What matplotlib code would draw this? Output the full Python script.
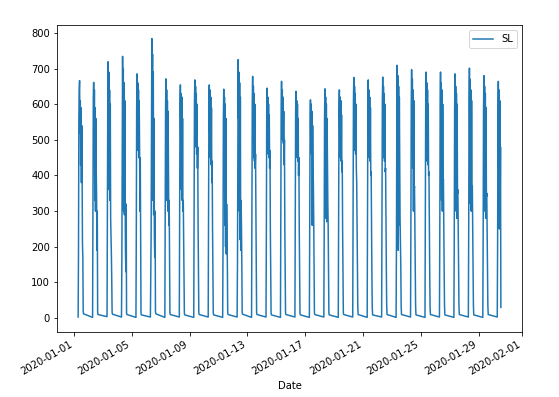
# -*- coding: utf-8 -*-
"""Daily SL readings for January 2020, one burst of values per day."""

import numpy as np
import pandas as pd
import matplotlib
matplotlib.use('Agg')
import matplotlib.pyplot as plt
import matplotlib.dates as mdates

# first reading of each day and spacing between readings
day_start = pd.Timestamp('2020-01-01 07:00')
step = pd.Timedelta(minutes=36)

# readings per day
sl_by_day = [
    [3, 180, 560, 640, 666, 520, 610, 430, 590, 380, 540, 400, 210, 170, 18, 12],
    [2, 330, 620, 661, 480, 640, 330, 590, 300, 560, 420, 350, 190, 300, 16, 10],
    [4, 280, 600, 719, 520, 690, 360, 640, 330, 600, 280, 230, 180, 110, 17, 11],
    [3, 160, 420, 734, 560, 700, 300, 660, 290, 610, 350, 190, 130, 320, 15, 10],
    [2, 240, 590, 685, 520, 660, 470, 640, 450, 610, 480, 300, 450, 200, 14, 9],
    [3, 120, 230, 520, 784, 600, 740, 330, 690, 290, 560, 230, 170, 300, 18, 12],
    [2, 260, 590, 671, 470, 640, 330, 610, 300, 580, 400, 260, 330, 160, 15, 10],
    [3, 300, 600, 654, 500, 630, 360, 620, 330, 560, 300, 330, 230, 150, 14, 9],
    [2, 350, 610, 668, 560, 650, 480, 630, 460, 600, 420, 480, 260, 140, 15, 10],
    [3, 330, 600, 654, 520, 640, 450, 620, 430, 590, 380, 440, 250, 140, 14, 9],
    [2, 200, 560, 642, 400, 620, 260, 600, 200, 560, 180, 320, 250, 150, 15, 10],
    [3, 150, 480, 725, 560, 690, 300, 660, 220, 620, 190, 330, 260, 160, 16, 11],
    [2, 320, 610, 678, 520, 650, 450, 630, 440, 600, 420, 460, 280, 150, 15, 10],
    [3, 250, 590, 645, 500, 620, 460, 600, 450, 570, 420, 470, 250, 130, 14, 9],
    [2, 300, 600, 664, 560, 640, 500, 620, 490, 580, 430, 500, 260, 140, 15, 10],
    [3, 280, 580, 636, 520, 610, 450, 600, 440, 560, 400, 450, 250, 140, 14, 9],
    [2, 250, 540, 612, 480, 600, 460, 580, 260, 540, 420, 380, 280, 140, 15, 10],
    [3, 230, 560, 643, 480, 620, 280, 600, 270, 560, 430, 330, 260, 140, 14, 9],
    [2, 260, 580, 640, 500, 620, 450, 610, 440, 570, 410, 440, 250, 130, 15, 10],
    [3, 300, 610, 675, 520, 650, 470, 630, 460, 600, 420, 380, 260, 140, 30, 10],
    [2, 290, 600, 668, 500, 640, 450, 620, 440, 590, 400, 410, 250, 130, 30, 9],
    [3, 310, 610, 676, 510, 650, 450, 630, 440, 600, 410, 420, 260, 140, 35, 10],
    [2, 200, 560, 709, 480, 680, 190, 650, 260, 620, 420, 280, 220, 150, 35, 10],
    [3, 260, 600, 697, 510, 670, 420, 640, 300, 610, 360, 370, 250, 140, 35, 9],
    [2, 290, 610, 690, 520, 660, 440, 640, 430, 600, 400, 410, 260, 140, 35, 10],
    [3, 240, 590, 690, 480, 660, 330, 640, 300, 600, 380, 390, 250, 140, 35, 9],
    [2, 220, 580, 685, 420, 650, 300, 630, 280, 600, 350, 360, 240, 130, 35, 10],
    [3, 250, 600, 701, 460, 670, 320, 640, 300, 610, 360, 370, 250, 140, 35, 9],
    [2, 230, 580, 680, 440, 650, 300, 630, 280, 590, 340, 350, 240, 130, 35, 10],
    [3, 210, 560, 664, 420, 640, 250, 610, 300, 480, 30],
]

# build the time series
stamps = []
values = []
for d, readings in enumerate(sl_by_day):
    for k, v in enumerate(readings):
        stamps.append(day_start + pd.Timedelta(days=d) + k * step)
        values.append(v)
sl = pd.Series(values, index=pd.DatetimeIndex(stamps, name='Date'), name='SL')

dpi = 72
fig = plt.figure(figsize=(559 / dpi, 397 / dpi), dpi=dpi)
ax = fig.add_axes([57 / 559, 1 - 332 / 397, (522 - 57) / 559, (332 - 25) / 397])

ax.plot(sl.index, sl.values, color='C0', linewidth=1.5, label='SL')
ax.set_ylim(-39, 822)
ax.set_yticks(np.arange(0, 801, 100))

ax.xaxis.set_major_locator(mdates.DayLocator(bymonthday=[1, 5, 9, 13, 17, 21, 25, 29]))
ax.xaxis.set_major_formatter(mdates.DateFormatter('%Y-%m-%d'))
for label in ax.get_xticklabels():
    label.set_rotation(30)
    label.set_horizontalalignment('right')
ax.set_xlabel('Date')
ax.legend(loc='upper right')

fig.savefig('out.png', dpi=dpi)
